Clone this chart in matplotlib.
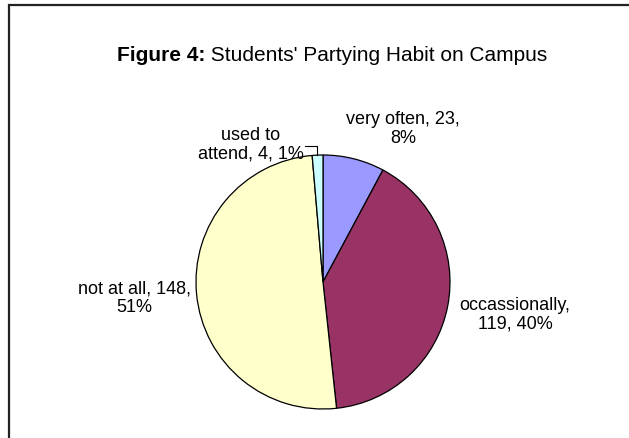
import matplotlib
matplotlib.use('Agg')
import matplotlib.pyplot as plt
from matplotlib.patches import Rectangle

plt.rcParams['font.family'] = ['Liberation Sans', 'DejaVu Sans']

# data
habits = ['very often', 'occassionally', 'not at all', 'used to attend']
counts = [23, 119, 148, 4]
percents = [8, 40, 51, 1]
colors = ['#9999FF', '#993366', '#FFFFCC', '#CCFFFF']

W, H = 629, 439
fig = plt.figure(figsize=(W / 100, H / 100), dpi=100)
ax = fig.add_axes([0, 0, 1, 1])
ax.set_xlim(0, W)
ax.set_ylim(0, H)
ax.axis('off')

# chart border (only left/top visible in the crop)
ax.add_patch(Rectangle((9, -20), W + 20, H - 5.5 + 20, fill=False,
                       edgecolor='#222222', linewidth=1.6))

ax.pie(counts, colors=colors, startangle=90, counterclock=False,
       center=(323, H - 283), radius=127,
       wedgeprops=dict(edgecolor='black', linewidth=0.9))
ax.set_xlim(0, W)
ax.set_ylim(0, H)
ax.set_aspect('auto')

t1 = ax.text(117, H - 55, 'Figure 4:', fontsize=15, fontweight='bold',
             ha='left', va='center')
ax.annotate(" Students' Partying Habit on Campus", xy=(1, 0.5), xycoords=t1,
            va='center', ha='left', fontsize=15)

lab = ['{}, {},\n{}%'.format(habits[0], counts[0], percents[0]),
       '{},\n{}, {}%'.format(habits[1], counts[1], percents[1]),
       '{}, {},\n{}%'.format(habits[2], counts[2], percents[2]),
       'used to\nattend, {}, {}%'.format(counts[3], percents[3])]
pos = [(403, 129), (515, 315), (134, 298), (251, 145)]
for s, (x, y) in zip(lab, pos):
    ax.text(x, H - y, s, fontsize=13, ha='center', va='center',
            linespacing=1.1)

# leader line for the tiny slice
ax.plot([305, 317, 317], [H - 147, H - 147, H - 156], color='black', lw=0.8)

fig.savefig('out.png', dpi=100)
